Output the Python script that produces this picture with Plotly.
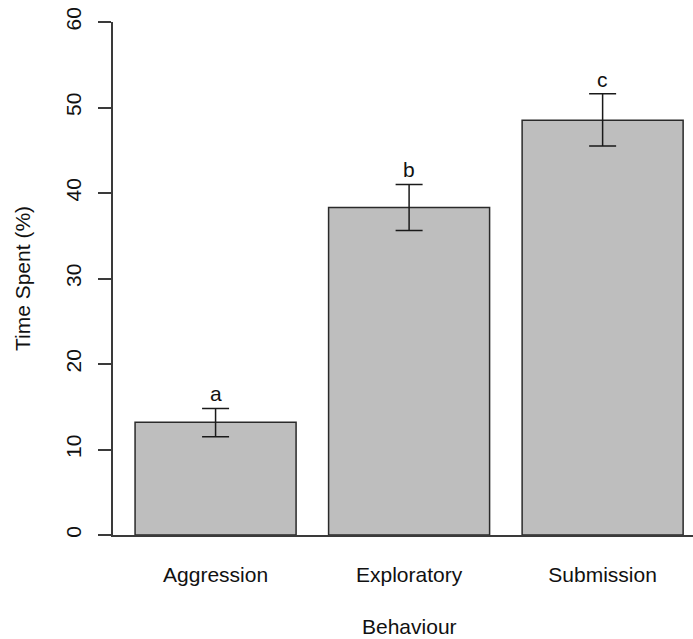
import plotly.graph_objects as go

categories = ["Aggression", "Exploratory", "Submission"]
means = [13.2, 38.3, 48.5]
upper = [14.8, 41.0, 51.6]
lower = [11.5, 35.6, 45.5]
letters = ["a", "b", "c"]
y_ticks = [0, 10, 20, 30, 40, 50, 60]

err_plus = [u - m for u, m in zip(upper, means)]
err_minus = [m - l for m, l in zip(means, lower)]

FONT = "Liberation Sans, Arial, sans-serif"
LINE = "#3a3a3a"

fig = go.Figure()
fig.add_trace(go.Bar(
    x=categories, y=means, width=0.832,
    marker=dict(color="#bebebe", line=dict(color="#2a2a2a", width=1.5)),
    error_y=dict(type="data", array=err_plus, arrayminus=err_minus,
                 color="#1a1a1a", thickness=1.5, width=13.5),
    showlegend=False, hoverinfo="skip",
))

annotations = []
for c, u, t in zip(categories, upper, letters):
    annotations.append(dict(x=c, y=u, xref="x", yref="y", text=t, showarrow=False,
                            yanchor="bottom", yshift=1,
                            font=dict(family=FONT, size=21, color="#111")))
annotations.append(dict(x=categories[1], y=0, xref="x", yref="paper", text="Behaviour",
                        showarrow=False, yanchor="middle", yshift=-91,
                        font=dict(family=FONT, size=21, color="#111")))

fig.update_layout(
    width=693, height=639,
    margin=dict(l=113, r=0, t=22, b=104, pad=0),
    paper_bgcolor="white", plot_bgcolor="white",
    font=dict(family=FONT, size=21, color="#111"),
    annotations=annotations,
    xaxis=dict(
        range=[-0.53, 2.467], showgrid=False, zeroline=False,
        showline=True, linecolor=LINE, linewidth=1.5,
        ticks="", ticklabelstandoff=20, automargin=False,
        tickfont=dict(family=FONT, size=21, color="#111"),
    ),
    yaxis=dict(
        range=[0, 60], tickvals=y_ticks, showgrid=False, zeroline=False,
        showline=True, linecolor=LINE, linewidth=1.5,
        ticks="outside", ticklen=13, tickwidth=1.5, tickcolor=LINE,
        tickangle=-90, ticklabelstandoff=9, automargin=False,
        tickfont=dict(family=FONT, size=21, color="#111"),
        title=dict(text="Time Spent (%)", standoff=25,
                   font=dict(family=FONT, size=21, color="#111")),
    ),
)

fig.write_html("out.html")
